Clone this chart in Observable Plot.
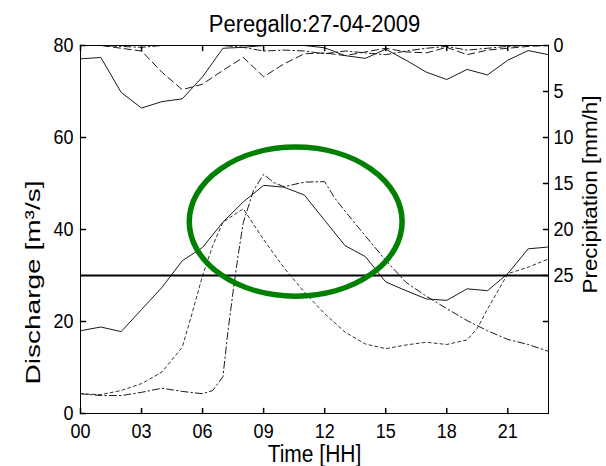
<!DOCTYPE html>
<html>
<head>
<meta charset="utf-8">
<script src="https://cdn.jsdelivr.net/npm/d3@7"></script>
<script src="https://cdn.jsdelivr.net/npm/@observablehq/plot@0.6"></script>
<style>
  html, body { margin: 0; padding: 0; background: #fff; }
  #chart { width: 606px; height: 466px; color: #000; }
</style>
</head>
<body>
<div id="chart"></div>
<script>
// Peregallo event of 27-04-2009: hourly discharge and precipitation.
const title = "Peregallo:27-04-2009";

// Hours of the day (x categories).
const hours = [0, 1, 2, 3, 4, 5, 6, 7, 8, 9, 10, 11, 12, 13, 14, 15, 16, 17, 18, 19, 20, 21, 22, 23];

// Observed discharge [m3/s] (solid).
const dischargeObserved = [18.0, 18.8, 17.8, 22.6, 27.4, 33.2, 36.1, 41.6, 46.0, 49.6, 49.2, 47.5,
                           42.0, 36.5, 34.1, 28.6, 26.7, 24.9, 24.6, 27.1, 26.7, 30.4, 35.8, 36.2];

// Simulated discharge, run A (dotted).
const timesRunA = [0, 1, 2, 3, 4, 5, 5.5, 6, 6.5, 7, 8, 8.3, 9, 10, 11, 12, 13, 14, 15, 16, 17, 18, 19, 19.5, 20, 21, 22, 23];
const dischargeRunA = [4.3, 4.1, 5.0, 6.5, 9.0, 14.4, 22.0, 30.0, 36.5, 41.6, 44.5, 42.5, 37.8, 31.7, 26.4,
                       21.7, 17.7, 15.1, 14.1, 14.9, 15.5, 15.0, 16.0, 18.5, 22.7, 30.4, 31.8, 33.6];

// Simulated discharge, run B (dash-dot).
const timesRunB = [0, 1, 2, 3, 4, 5, 6, 6.5, 7, 7.25, 7.5, 7.75, 8, 8.5, 9, 9.5, 10, 10.5, 11, 12, 12.5, 13,
                   14, 15, 16, 17, 18, 19, 20, 21, 22, 23];
const dischargeRunB = [4.3, 3.9, 3.9, 4.6, 5.5, 4.8, 4.3, 5.0, 8.0, 18.0, 26.5, 34.5, 41.5, 48.5, 52.0, 50.2,
                       49.3, 49.8, 50.3, 50.4, 46.8, 44.0, 38.6, 33.3, 28.5, 25.5, 22.8, 20.2, 18.0, 16.1, 15.0, 13.5];

// Precipitation [mm/h], three sources.
const rainObserved = [1.45, 1.3, 5.1, 6.8, 6.1, 5.8, 3.4, 0.3, 0.2, 0.0, 0.0, 0.0,
                      0.25, 1.1, 1.4, 0.4, 1.6, 2.9, 3.7, 2.6, 3.2, 1.6, 0.55, 1.0];
const rainSourceA = [0.0, 0.0, 0.3, 0.6, 2.9, 4.8, 4.2, 2.7, 1.3, 3.4, 2.0, 0.9,
                     0.8, 1.1, 0.7, 0.3, 0.7, 0.8, 0.2, 1.0, 0.5, 0.3, 0.1, 0.0];
const rainSourceB = [0.0, 0.0, 0.1, 0.2, 0.0, 0.0, 0.0, 0.0, 0.2, 0.6, 0.5, 0.6,
                     0.9, 0.6, 0.8, 1.0, 0.6, 0.3, 0.1, 0.5, 0.3, 0.1, 0.0, 0.0];

// Alert threshold on discharge [m3/s].
const threshold = 30;

// Axis ticks.
const hourTicks = [0, 3, 6, 9, 12, 15, 18, 21];
const dischargeTicks = [0, 20, 40, 60, 80];
const rainTicks = [0, 5, 10, 15, 20, 25, 30];
const rainLabelled = [0, 5, 10, 15, 20, 25];

// Highlighted peak region (hours, m3/s).
const highlight = {hour: 10.6, discharge: 41.6, halfHours: 5.23, halfDischarge: 16.2};

// Precipitation axis runs downward from the top: 0..40 mm/h spans 80..0 m3/s.
const dischargeMax = 80, rainMax = 40;
const rainToY = (p) => dischargeMax - p * dischargeMax / rainMax;
const yToRain = (y) => (dischargeMax - y) * rainMax / dischargeMax;

const series = (t, v) => t.map((x, i) => ({t: x, v: v[i]}));
const obs = series(hours, dischargeObserved);
const runA = series(timesRunA, dischargeRunA);
const runB = series(timesRunB, dischargeRunB);
const rObs = series(hours, rainObserved);
const rA = series(hours, rainSourceA);
const rB = series(hours, rainSourceB);

// Short inward tick segment for the axes.
const tickShape = {draw(context, l) { context.moveTo(0, 0); context.lineTo(0, -l); }};

const font = "'Liberation Sans', Arial, sans-serif";
const lineColor = "#1a1a1a";

function ellipseMark({hour, discharge, halfHours, halfDischarge}) {
  return (index, scales) => {
    const cx = scales.x(hour), cy = scales.y(discharge);
    const rx = Math.abs(scales.x(hour + halfHours) - cx);
    const ry = Math.abs(scales.y(discharge + halfDischarge) - cy);
    const el = document.createElementNS("http://www.w3.org/2000/svg", "ellipse");
    el.setAttribute("cx", cx);
    el.setAttribute("cy", cy);
    el.setAttribute("rx", rx);
    el.setAttribute("ry", ry);
    el.setAttribute("fill", "none");
    el.setAttribute("stroke", "#008000");
    el.setAttribute("stroke-width", 5.5);
    return el;
  };
}

const chart = Plot.plot({
  width: 606,
  height: 466,
  marginLeft: 80,
  marginRight: 58,
  marginTop: 45,
  marginBottom: 53,
  style: {fontFamily: font, background: "#fff", color: "#000", overflow: "visible"},
  x: {domain: [0, 23]},
  y: {domain: [0, dischargeMax]},
  marks: [
    // precipitation (top, inverted axis)
    Plot.line(rObs, {x: "t", y: (d) => rainToY(d.v), stroke: lineColor, strokeWidth: 1}),
    Plot.line(rA, {x: "t", y: (d) => rainToY(d.v), stroke: lineColor, strokeWidth: 1, strokeDasharray: "7,4"}),
    Plot.line(rB, {x: "t", y: (d) => rainToY(d.v), stroke: lineColor, strokeWidth: 1, strokeDasharray: "7,3,1.5,3"}),
    // discharge
    Plot.line(obs, {x: "t", y: "v", stroke: lineColor, strokeWidth: 1}),
    Plot.line(runA, {x: "t", y: "v", stroke: "#333", strokeWidth: 1, strokeDasharray: "3,3"}),
    Plot.line(runB, {x: "t", y: "v", stroke: lineColor, strokeWidth: 1, strokeDasharray: "7,3,1.5,3"}),
    Plot.ruleY([threshold], {stroke: "#000", strokeWidth: 2}),
    ellipseMark(highlight),
    Plot.frame({stroke: "#000", strokeWidth: 1}),
    // inward ticks
    Plot.vector(hourTicks, {x: (d) => d, frameAnchor: "bottom", length: 5, anchor: "start", shape: tickShape, stroke: "#000"}),
    Plot.vector(hourTicks, {x: (d) => d, frameAnchor: "top", length: 5, rotate: 180, anchor: "start", shape: tickShape, stroke: "#000"}),
    Plot.vector(dischargeTicks, {y: (d) => d, frameAnchor: "left", length: 5, rotate: 90, anchor: "start", shape: tickShape, stroke: "#000"}),
    Plot.vector(rainTicks, {y: (d) => rainToY(d), frameAnchor: "right", length: 5, rotate: -90, anchor: "start", shape: tickShape, stroke: "#000"}),
    // tick labels
    Plot.axisX({anchor: "bottom", ticks: hourTicks, tickSize: 0, tickPadding: 10, fontSize: 18, label: null,
                tickFormat: (d) => String(d).padStart(2, "0")}),
    Plot.axisY({anchor: "left", ticks: dischargeTicks, tickSize: 0, tickPadding: 7, fontSize: 18, label: null}),
    Plot.axisY({anchor: "right", ticks: rainTicks.map(rainToY), tickSize: 0, tickPadding: 5, fontSize: 18, label: null,
                tickFormat: (y) => { const p = Math.round(yToRain(y)); return rainLabelled.includes(p) ? String(p) : ""; }}),
    // titles
    Plot.text([title], {text: (d) => d, frameAnchor: "top", dy: -14, lineAnchor: "bottom", fontSize: 22, fill: "#000"}),
    Plot.text(["Time [HH]"], {text: (d) => d, frameAnchor: "bottom", dy: 48, lineAnchor: "bottom", fontSize: 21, fill: "#000"}),
    Plot.text(["Discharge [m³/s]"], {text: (d) => d, frameAnchor: "left", dx: -47, dy: 53, rotate: -90,
                                      textAnchor: "middle", lineAnchor: "middle", fontSize: 21, fill: "#000"}),
    Plot.text(["Precipitation [mm/h]"], {text: (d) => d, frameAnchor: "right", dx: 42, dy: -35, rotate: -90,
                                          textAnchor: "middle", lineAnchor: "middle", fontSize: 21, fill: "#000"})
  ]
});

// Lettering is drawn slightly tall: horizontal text is stretched vertically,
// the rotated axis titles are stretched along their length.
const axisTitleLength = {"Discharge [m³/s]": 204, "Precipitation [mm/h]": 198};
chart.querySelectorAll("text").forEach((t) => {
  const label = t.textContent;
  const tr = t.getAttribute("transform") || "";
  if (label in axisTitleLength) {
    t.setAttribute("textLength", axisTitleLength[label]);
    t.setAttribute("lengthAdjust", "spacingAndGlyphs");
  } else if (!/rotate/.test(tr)) {
    t.setAttribute("transform", `${tr} scale(1,1.12)`);
  }
});

document.getElementById("chart").appendChild(chart);
</script>
</body>
</html>
